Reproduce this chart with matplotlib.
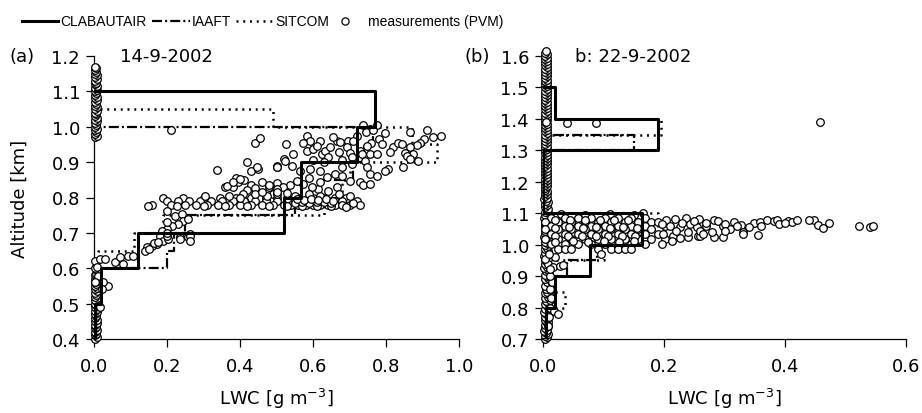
import numpy as np
import matplotlib
matplotlib.use("Agg")
import matplotlib.pyplot as plt
from matplotlib.lines import Line2D
from matplotlib import font_manager

# ---- model profiles (layer bounds in km, LWC per layer in g m-3)
clab_a_alt = [0.4, 0.5, 0.6, 0.7, 0.8, 0.9, 1.0, 1.1]
clab_a_lwc = [0.004, 0.02, 0.12, 0.52, 0.567, 0.72, 0.77]
iaaft_a_alt = [0.6, 0.65, 0.7, 0.75, 0.8, 0.85, 0.9, 0.95, 1.0]
iaaft_a_lwc = [0.2, 0.22, 0.25, 0.55, 0.62, 0.71, 0.74, 0.765]
sit_a_alt = [0.6, 0.65, 0.7, 0.75, 0.8, 0.85, 0.9, 0.95, 1.0, 1.05]
sit_a_lwc = [0.01, 0.11, 0.19, 0.63, 0.68, 0.70, 0.94, 0.87, 0.49]

clab_b_alt = [0.7, 0.8, 0.9, 1.0, 1.1, 1.2, 1.3, 1.4, 1.5]
clab_b_lwc = [0.005, 0.02, 0.078, 0.163, 0.0, 0.0, 0.19, 0.02]
iaaft_b_alt = [0.8, 0.85, 0.9, 0.95, 1.0, 1.05, 1.1, 1.15, 1.2, 1.25, 1.3, 1.35]
iaaft_b_lwc = [0.01, 0.02, 0.04, 0.09, 0.13, 0.0, 0.0, 0.0, 0.0, 0.0, 0.15]
sit_b_alt = [0.75, 0.8, 0.85, 0.9, 0.95, 1.0, 1.05, 1.1, 1.15, 1.2, 1.25, 1.3, 1.35, 1.4]
sit_b_lwc = [0.005, 0.036, 0.01, 0.01, 0.1, 0.16, 0.19, 0.0, 0.0, 0.0, 0.0, 0.0, 0.195]

# ---- PVM measurements near zero LWC (the dense columns)
col_a_alt = [0.400, 0.405, 0.41, 0.415, 0.42, 0.425, 0.43, 0.435, 0.44, 0.445, 0.45, 0.455,
             0.46, 0.465, 0.47, 0.475, 0.48, 0.485, 0.49, 0.495, 0.50, 0.505, 0.51, 0.515,
             0.52, 0.525, 0.53, 0.535, 0.54, 0.545, 0.55, 0.555, 0.56, 0.565, 0.57, 0.575,
             0.58, 0.585, 0.59, 0.595, 0.60,
             0.97, 0.975, 0.98, 0.985, 0.99, 0.995, 1.00, 1.005, 1.01, 1.015, 1.02, 1.025,
             1.03, 1.035, 1.04, 1.045, 1.05, 1.055, 1.06, 1.065, 1.07, 1.075, 1.08, 1.085,
             1.09, 1.095, 1.10, 1.105, 1.11, 1.115, 1.12, 1.125, 1.13, 1.135, 1.14, 1.145,
             1.15, 1.155, 1.16, 1.165, 1.17]
col_a_lwc = [0.003, 0.007, 0.002, 0.006, 0.004, 0.008, 0.003, 0.006, 0.002, 0.007, 0.004, 0.008,
             0.003, 0.006, 0.002, 0.007, 0.004, 0.008, 0.003, 0.006, 0.002, 0.007, 0.004, 0.008,
             0.003, 0.006, 0.002, 0.007, 0.004, 0.008, 0.003, 0.006, 0.002, 0.007, 0.004, 0.008,
             0.003, 0.006, 0.010, 0.007, 0.004,
             0.004, 0.007, 0.002, 0.006, 0.004, 0.008, 0.003, 0.006, 0.002, 0.007, 0.004, 0.008,
             0.003, 0.006, 0.002, 0.007, 0.004, 0.008, 0.003, 0.006, 0.002, 0.007, 0.004, 0.008,
             0.003, 0.006, 0.002, 0.007, 0.004, 0.008, 0.003, 0.006, 0.002, 0.007, 0.004, 0.008,
             0.003, 0.006, 0.004, 0.005, 0.003]

col_b_alt = [0.70, 0.705, 0.71, 0.715, 0.72, 0.725, 0.73, 0.735, 0.74, 0.745, 0.75, 0.755,
             0.76, 0.765, 0.77, 0.775, 0.78, 0.785, 0.79, 0.795, 0.80, 0.805, 0.81, 0.815,
             0.82, 0.825, 0.83, 0.835, 0.84, 0.845, 0.85, 0.855, 0.86, 0.865, 0.87, 0.875,
             0.88, 0.885, 0.89, 0.895, 0.90, 0.905, 0.91, 0.915, 0.92, 0.925, 0.93, 0.935,
             0.94, 0.945, 0.95, 0.955, 0.96, 0.965, 0.97, 0.975, 0.98, 0.985, 0.99, 0.995,
             1.00, 1.005, 1.01, 1.015, 1.02, 1.025, 1.03, 1.035, 1.04, 1.045, 1.05, 1.055,
             1.06, 1.065, 1.07, 1.075, 1.08, 1.085, 1.09, 1.095, 1.10, 1.105, 1.11, 1.115,
             1.12, 1.125, 1.13, 1.135, 1.14, 1.145, 1.15, 1.155, 1.16, 1.165, 1.17, 1.175,
             1.18, 1.185, 1.19, 1.195, 1.20, 1.205, 1.21, 1.215, 1.22, 1.225, 1.23, 1.235,
             1.24, 1.245, 1.25, 1.255, 1.26, 1.265, 1.27, 1.275, 1.28, 1.285, 1.29, 1.295,
             1.30, 1.305, 1.31, 1.315, 1.32, 1.325, 1.33, 1.335, 1.34, 1.345, 1.35, 1.355,
             1.36, 1.365, 1.37, 1.375, 1.38, 1.385, 1.39, 1.395, 1.40, 1.405, 1.41, 1.415,
             1.42, 1.425, 1.43, 1.435, 1.44, 1.445, 1.45, 1.455, 1.46, 1.465, 1.47, 1.475,
             1.48, 1.485, 1.49, 1.495, 1.50, 1.505, 1.51, 1.515, 1.52, 1.525, 1.53, 1.535,
             1.54, 1.545, 1.55, 1.555, 1.56, 1.565, 1.57, 1.575, 1.58, 1.585, 1.59, 1.595,
             1.60, 1.605, 1.61, 1.615]
col_b_lwc = [0.004, 0.007, 0.003, 0.008, 0.005, 0.002, 0.007, 0.004, 0.009, 0.003, 0.006, 0.008,
             0.004, 0.007, 0.003, 0.009, 0.005, 0.002, 0.008, 0.004, 0.010, 0.006, 0.003, 0.009,
             0.005, 0.012, 0.004, 0.008, 0.010, 0.003, 0.007, 0.012, 0.005, 0.009, 0.003, 0.011,
             0.006, 0.013, 0.004, 0.009, 0.007, 0.003, 0.010, 0.005, 0.008, 0.002, 0.006, 0.009,
             0.004, 0.007, 0.003, 0.008, 0.005, 0.002, 0.007, 0.004, 0.009, 0.003, 0.006, 0.008,
             0.004, 0.007, 0.003, 0.008, 0.005, 0.002, 0.007, 0.004, 0.009, 0.003, 0.006, 0.008,
             0.004, 0.007, 0.003, 0.008, 0.005, 0.002, 0.007, 0.004, 0.009, 0.003, 0.006, 0.008,
             0.004, 0.007, 0.003, 0.008, 0.005, 0.002, 0.007, 0.004, 0.006, 0.003, 0.006, 0.004,
             0.003, 0.006, 0.004, 0.007, 0.003, 0.006, 0.004, 0.007, 0.003, 0.006, 0.004, 0.007,
             0.003, 0.006, 0.004, 0.007, 0.003, 0.006, 0.004, 0.007, 0.003, 0.006, 0.004, 0.007,
             0.003, 0.006, 0.004, 0.007, 0.003, 0.006, 0.004, 0.007, 0.003, 0.006, 0.004, 0.007,
             0.003, 0.006, 0.004, 0.007, 0.003, 0.006, 0.004, 0.007, 0.003, 0.006, 0.004, 0.007,
             0.003, 0.006, 0.004, 0.007, 0.003, 0.006, 0.004, 0.007, 0.003, 0.006, 0.004, 0.007,
             0.003, 0.006, 0.004, 0.007, 0.003, 0.006, 0.004, 0.007, 0.003, 0.006, 0.004, 0.007,
             0.003, 0.006, 0.004, 0.007, 0.003, 0.006, 0.004, 0.007, 0.003, 0.006, 0.004, 0.007,
             0.003, 0.006, 0.004, 0.005]

# ---- PVM measurements inside the cloud (LWC, altitude)
pvm_a = [
    (0.21, 0.99), (0.44, 0.954), (0.455, 0.968), (0.336, 0.879), (0.43, 0.875), (0.45, 0.88),
    (0.50, 0.886), (0.39, 0.855), (0.41, 0.85), (0.395, 0.844), (0.36, 0.83), (0.38, 0.83),
    (0.43, 0.835), (0.42, 0.82), (0.44, 0.82), (0.48, 0.83), (0.50, 0.84), (0.42, 0.90),
    (0.446, 0.886), (0.50, 0.89), (0.364, 0.833), (0.381, 0.844), (0.40, 0.852), (0.46, 0.845),
    (0.48, 0.834), (0.44, 0.826), (0.52, 0.91), (0.545, 0.923),
    (0.755, 0.995), (0.746, 0.985), (0.737, 1.005), (0.774, 1.005), (0.797, 0.982), (0.866, 0.985),
    (0.911, 0.99), (0.952, 0.975), (0.93, 0.97), (0.904, 0.965), (0.893, 0.953), (0.884, 0.947),
    (0.866, 0.942), (0.852, 0.926), (0.874, 0.923), (0.857, 0.918), (0.866, 0.909), (0.888, 0.903),
    (0.82, 0.942), (0.833, 0.954), (0.843, 0.95), (0.847, 0.886), (0.806, 0.88), (0.797, 0.875),
    (0.526, 0.95), (0.765, 0.99), (0.78, 0.965), (0.79, 0.95), (0.76, 0.955), (0.81, 0.93),
    (0.583, 0.975), (0.592, 0.959), (0.619, 0.961), (0.573, 0.953), (0.583, 0.932), (0.60, 0.937),
    (0.624, 0.923), (0.633, 0.932), (0.647, 0.944), (0.665, 0.961), (0.655, 0.97), (0.674, 0.956),
    (0.696, 0.961), (0.692, 0.942), (0.701, 0.925), (0.72, 0.975), (0.706, 0.914), (0.729, 0.932),
    (0.747, 0.946), (0.733, 0.923), (0.756, 0.923), (0.774, 0.923), (0.742, 0.904), (0.61, 0.945),
    (0.64, 0.915), (0.67, 0.93), (0.68, 0.905), (0.63, 0.9), (0.60, 0.905), (0.71, 0.96),
    (0.50, 0.885), (0.523, 0.904), (0.542, 0.89), (0.564, 0.876), (0.592, 0.881), (0.619, 0.876),
    (0.637, 0.857), (0.66, 0.866), (0.679, 0.885), (0.706, 0.895), (0.747, 0.885), (0.756, 0.866),
    (0.774, 0.862), (0.701, 0.848), (0.729, 0.843), (0.738, 0.834), (0.756, 0.838), (0.665, 0.829),
    (0.642, 0.819), (0.614, 0.824), (0.596, 0.829), (0.573, 0.838), (0.555, 0.848), (0.537, 0.834),
    (0.519, 0.829), (0.50, 0.824), (0.491, 0.81), (0.59, 0.855), (0.62, 0.845), (0.68, 0.86),
    (0.19, 0.80), (0.245, 0.80), (0.30, 0.80), (0.345, 0.80), (0.39, 0.80), (0.43, 0.80),
    (0.47, 0.80), (0.50, 0.80), (0.53, 0.80), (0.56, 0.80), (0.60, 0.80), (0.63, 0.80),
    (0.66, 0.80), (0.69, 0.80),
    (0.20, 0.79), (0.23, 0.79), (0.26, 0.79), (0.29, 0.79), (0.32, 0.79), (0.35, 0.79),
    (0.38, 0.79), (0.41, 0.79), (0.44, 0.79), (0.47, 0.79), (0.50, 0.79), (0.53, 0.79),
    (0.56, 0.79), (0.58, 0.79), (0.60, 0.79), (0.62, 0.79), (0.64, 0.79), (0.66, 0.79),
    (0.68, 0.79), (0.70, 0.79), (0.72, 0.79),
    (0.16, 0.78), (0.21, 0.78), (0.25, 0.78), (0.28, 0.78), (0.31, 0.78), (0.34, 0.78),
    (0.37, 0.78), (0.40, 0.78), (0.43, 0.78), (0.46, 0.78), (0.49, 0.78), (0.52, 0.78),
    (0.54, 0.78), (0.56, 0.78), (0.58, 0.78), (0.60, 0.78), (0.62, 0.78), (0.64, 0.78),
    (0.66, 0.78), (0.68, 0.78), (0.70, 0.78), (0.73, 0.78),
    (0.149, 0.775), (0.227, 0.775), (0.30, 0.775), (0.36, 0.775), (0.42, 0.775), (0.48, 0.775),
    (0.53, 0.775), (0.57, 0.775), (0.61, 0.775), (0.65, 0.775), (0.69, 0.772), (0.71, 0.785),
    (0.304, 0.805), (0.409, 0.81), (0.473, 0.805), (0.50, 0.81), (0.55, 0.805), (0.59, 0.81),
    (0.62, 0.805), (0.67, 0.81), (0.70, 0.805),
    (0.55, 0.785), (0.57, 0.788), (0.59, 0.785), (0.61, 0.788), (0.63, 0.786), (0.65, 0.784),
    (0.555, 0.795), (0.575, 0.792), (0.595, 0.795), (0.615, 0.792), (0.635, 0.795), (0.655, 0.79),
    (0.44, 0.81), (0.46, 0.815), (0.50, 0.815), (0.53, 0.812), (0.40, 0.80), (0.37, 0.805),
    (0.199, 0.763), (0.222, 0.749), (0.24, 0.753), (0.245, 0.734), (0.258, 0.739), (0.231, 0.725),
    (0.213, 0.72), (0.199, 0.711), (0.185, 0.706), (0.181, 0.692), (0.19, 0.678), (0.172, 0.669),
    (0.158, 0.664), (0.144, 0.659), (0.14, 0.65), (0.204, 0.683), (0.236, 0.688), (0.258, 0.688),
    (0.263, 0.697), (0.199, 0.73), (0.236, 0.683), (0.263, 0.692), (0.263, 0.678), (0.20, 0.69),
    (0.20, 0.70), (0.15, 0.655), (0.165, 0.67), (0.176, 0.675),
    (0.003, 0.621), (0.016, 0.626), (0.03, 0.626), (0.058, 0.617), (0.071, 0.631), (0.08, 0.612),
    (0.094, 0.636), (0.108, 0.636), (0.039, 0.551), (0.025, 0.56), (0.012, 0.579), (0.007, 0.603),
    (0.003, 0.56), (0.021, 0.541), (0.016, 0.49),
]

pvm_b = [
    (0.012, 0.80), (0.014, 0.83), (0.011, 0.86), (0.015, 0.88), (0.012, 0.90), (0.010, 0.77),
    (0.008, 0.74), (0.019, 0.79), (0.025, 0.78), (0.008, 0.939), (0.017, 0.928), (0.028, 0.931),
    (0.033, 0.935), (0.003, 0.954), (0.011, 0.923), (0.020, 0.96), (0.010, 0.97),
    (0.005, 1.39), (0.039, 1.388), (0.088, 1.388), (0.458, 1.389),
    (0.165, 1.102), (0.03, 1.097), (0.07, 1.095), (0.11, 1.096), (0.15, 1.094),
    (0.014, 1.086), (0.036, 1.086), (0.058, 1.086), (0.08, 1.086), (0.102, 1.086), (0.124, 1.086),
    (0.146, 1.086), (0.168, 1.086),
    (0.003, 1.071), (0.025, 1.071), (0.047, 1.071), (0.069, 1.071), (0.091, 1.071), (0.113, 1.071),
    (0.135, 1.071), (0.157, 1.071), (0.179, 1.071), (0.19, 1.071),
    (0.014, 1.06), (0.036, 1.06), (0.058, 1.06), (0.08, 1.06), (0.102, 1.06), (0.124, 1.06),
    (0.146, 1.06), (0.168, 1.06), (0.201, 1.06),
    (0.003, 1.049), (0.025, 1.049), (0.047, 1.049), (0.069, 1.049), (0.091, 1.049), (0.113, 1.049),
    (0.135, 1.049), (0.157, 1.049), (0.179, 1.049),
    (0.014, 1.034), (0.036, 1.034), (0.058, 1.034), (0.08, 1.034), (0.102, 1.034), (0.124, 1.034),
    (0.146, 1.034), (0.168, 1.034), (0.19, 1.034),
    (0.003, 1.018), (0.025, 1.018), (0.047, 1.018), (0.069, 1.018), (0.091, 1.018), (0.113, 1.018),
    (0.135, 1.018), (0.157, 1.018), (0.179, 1.018), (0.201, 1.018),
    (0.014, 1.002), (0.036, 1.002), (0.058, 1.002), (0.08, 1.002), (0.102, 1.002), (0.124, 1.002),
    (0.146, 1.002), (0.168, 1.002),
    (0.025, 0.986), (0.036, 0.986), (0.047, 0.986), (0.091, 0.986), (0.113, 0.986), (0.124, 0.986),
    (0.135, 0.986), (0.146, 0.986), (0.096, 0.97),
    (0.02, 1.078), (0.045, 1.08), (0.07, 1.078), (0.095, 1.08), (0.118, 1.078), (0.14, 1.08),
    (0.02, 1.053), (0.043, 1.055), (0.066, 1.053), (0.088, 1.055), (0.11, 1.053), (0.132, 1.055),
    (0.155, 1.053), (0.02, 1.026), (0.042, 1.026), (0.064, 1.027), (0.087, 1.026), (0.108, 1.027),
    (0.13, 1.026), (0.152, 1.027), (0.02, 1.01), (0.05, 1.011), (0.075, 1.01), (0.1, 1.011),
    (0.125, 1.01), (0.15, 1.011),
    (0.204, 1.079), (0.218, 1.083), (0.236, 1.086), (0.258, 1.083), (0.282, 1.079), (0.29, 1.076),
    (0.315, 1.071), (0.328, 1.062), (0.348, 1.068), (0.359, 1.071), (0.37, 1.079), (0.381, 1.076),
    (0.386, 1.079), (0.405, 1.076), (0.411, 1.071), (0.448, 1.079), (0.455, 1.062), (0.463, 1.052),
    (0.473, 1.068), (0.523, 1.058), (0.54, 1.055), (0.546, 1.058), (0.196, 1.065), (0.21, 1.06),
    (0.226, 1.055), (0.243, 1.065), (0.254, 1.055), (0.27, 1.06), (0.298, 1.058), (0.309, 1.049),
    (0.331, 1.039), (0.356, 1.03), (0.199, 1.034), (0.215, 1.028), (0.24, 1.023), (0.257, 1.026),
    (0.282, 1.023), (0.298, 1.023), (0.196, 1.002), (0.213, 1.012), (0.226, 1.02), (0.26, 1.028),
    (0.331, 1.034), (0.39, 1.065), (0.40, 1.07), (0.42, 1.08), (0.36, 1.06), (0.34, 1.055),
    (0.32, 1.06), (0.30, 1.065), (0.27, 1.07), (0.25, 1.075), (0.23, 1.07), (0.22, 1.045),
    (0.24, 1.04), (0.26, 1.045), (0.28, 1.04), (0.30, 1.045), (0.265, 1.035), (0.44, 1.08),
]

legend_labels = ["CLABAUTAIR", "IAAFT", "SITCOM", "measurements (PVM)"]

axis_font = "DejaVu Sans"
installed = {f.name for f in font_manager.fontManager.ttflist}
if "Liberation Sans Narrow" in installed:
    leg_font, leg_size = "Liberation Sans Narrow", 10.5
else:
    leg_font, leg_size = "Liberation Sans", 10

solid_kw = dict(color="black", lw=2.2, ls="-")
dashdot_kw = dict(color="black", lw=1.6, ls=(0, (4.5, 1.4, 0.9, 1.4)))
dot_kw = dict(color="black", lw=1.8, ls=(0, (0.8, 1.9)))
pvm_kw = dict(s=30, facecolors="white", edgecolors="black", linewidths=0.9, zorder=3, clip_on=False)


def staircase(alt, lwc):
    # vertical profile: one step per layer, closed back to zero at top and bottom
    xs, ys = [0.0], [alt[0]]
    for i, v in enumerate(lwc):
        xs += [v, v]
        ys += [alt[i], alt[i + 1]]
    xs.append(0.0)
    ys.append(alt[-1])
    return xs, ys


def style_axis(ax, xlim, ylim, xt, yt):
    ax.set_xlim(*xlim)
    ax.set_ylim(*ylim)
    ax.set_xticks(xt)
    ax.set_yticks(yt)
    ax.set_xticklabels(["%.1f" % v for v in xt])
    ax.set_yticklabels(["%.1f" % v for v in yt])
    for s in ["top", "right"]:
        ax.spines[s].set_visible(False)
    for s in ["left", "bottom"]:
        ax.spines[s].set_linewidth(0.9)
    ax.tick_params(axis="x", direction="out", length=6, width=0.9, labelsize=13, pad=7)
    ax.tick_params(axis="y", direction="out", length=6, width=0.9, labelsize=13, pad=4)
    for lab in ax.get_xticklabels() + ax.get_yticklabels():
        lab.set_family(axis_font)
    ax.set_xlabel("LWC [g m$^{-3}$]", fontsize=13, family=axis_font, labelpad=8)


fig = plt.figure(figsize=(9.22, 4.14), dpi=100)

ax1 = fig.add_axes([94 / 922, 74 / 414, 365 / 922, 283 / 414])
ax2 = fig.add_axes([543 / 922, 74 / 414, 363 / 922, 283 / 414])

# panel (a)
pa = np.array(pvm_a)
ax1.scatter(col_a_lwc, col_a_alt, **pvm_kw)
ax1.scatter(pa[:, 0], pa[:, 1], **pvm_kw)
ax1.plot(*staircase(sit_a_alt, sit_a_lwc), zorder=2, **dot_kw)
ax1.plot(*staircase(iaaft_a_alt, iaaft_a_lwc), zorder=2, **dashdot_kw)
ax1.plot(*staircase(clab_a_alt, clab_a_lwc), zorder=4, **solid_kw)
style_axis(ax1, (0, 1.0), (0.4, 1.2), np.arange(0, 1.01, 0.2), np.arange(0.4, 1.21, 0.1))
ax1.set_ylabel("Altitude [km]", fontsize=13, family=axis_font)
ax1.yaxis.set_label_coords(-0.18, 0.5)
ax1.text(0.07, 1.2, "14-9-2002", fontsize=13, family=axis_font, va="center", ha="left")

# panel (b)
pb = np.array(pvm_b)
ax2.scatter(col_b_lwc, col_b_alt, **pvm_kw)
ax2.scatter(pb[:, 0], pb[:, 1], **pvm_kw)
ax2.plot(*staircase(sit_b_alt, sit_b_lwc), zorder=2, **dot_kw)
ax2.plot(*staircase(iaaft_b_alt, iaaft_b_lwc), zorder=2, **dashdot_kw)
ax2.plot(*staircase(clab_b_alt, clab_b_lwc), zorder=4, **solid_kw)
style_axis(ax2, (0, 0.6), (0.7, 1.6), np.arange(0, 0.61, 0.2), np.arange(0.7, 1.61, 0.1))
ax2.text(0.053, 1.6, "b: 22-9-2002", fontsize=13, family=axis_font, va="center", ha="left")

fig.text(9 / 922, 1 - 57 / 414, "(a)", fontsize=13, family=axis_font, va="center", ha="left")
fig.text(464 / 922, 1 - 57 / 414, "(b)", fontsize=13, family=axis_font, va="center", ha="left")

# legend row along the top, placed in figure pixels
W, H = 922.0, 414.0
ly = 1 - 22 / H
for (x0, x1), kw in zip([(22, 58), (152, 190), (236, 273)], [solid_kw, dashdot_kw, dot_kw]):
    fig.add_artist(Line2D([x0 / W, x1 / W], [ly, ly], transform=fig.transFigure, **kw))
fig.add_artist(Line2D([345 / W], [ly], transform=fig.transFigure, ls="none", marker="o",
                      ms=5.2, mfc="white", mec="black", mew=0.9))
for x, lab in zip([60, 192, 275, 368], legend_labels):
    fig.text(x / W, ly, lab, fontsize=leg_size, family=leg_font, va="center", ha="left")

fig.savefig("out.png", dpi=100)
